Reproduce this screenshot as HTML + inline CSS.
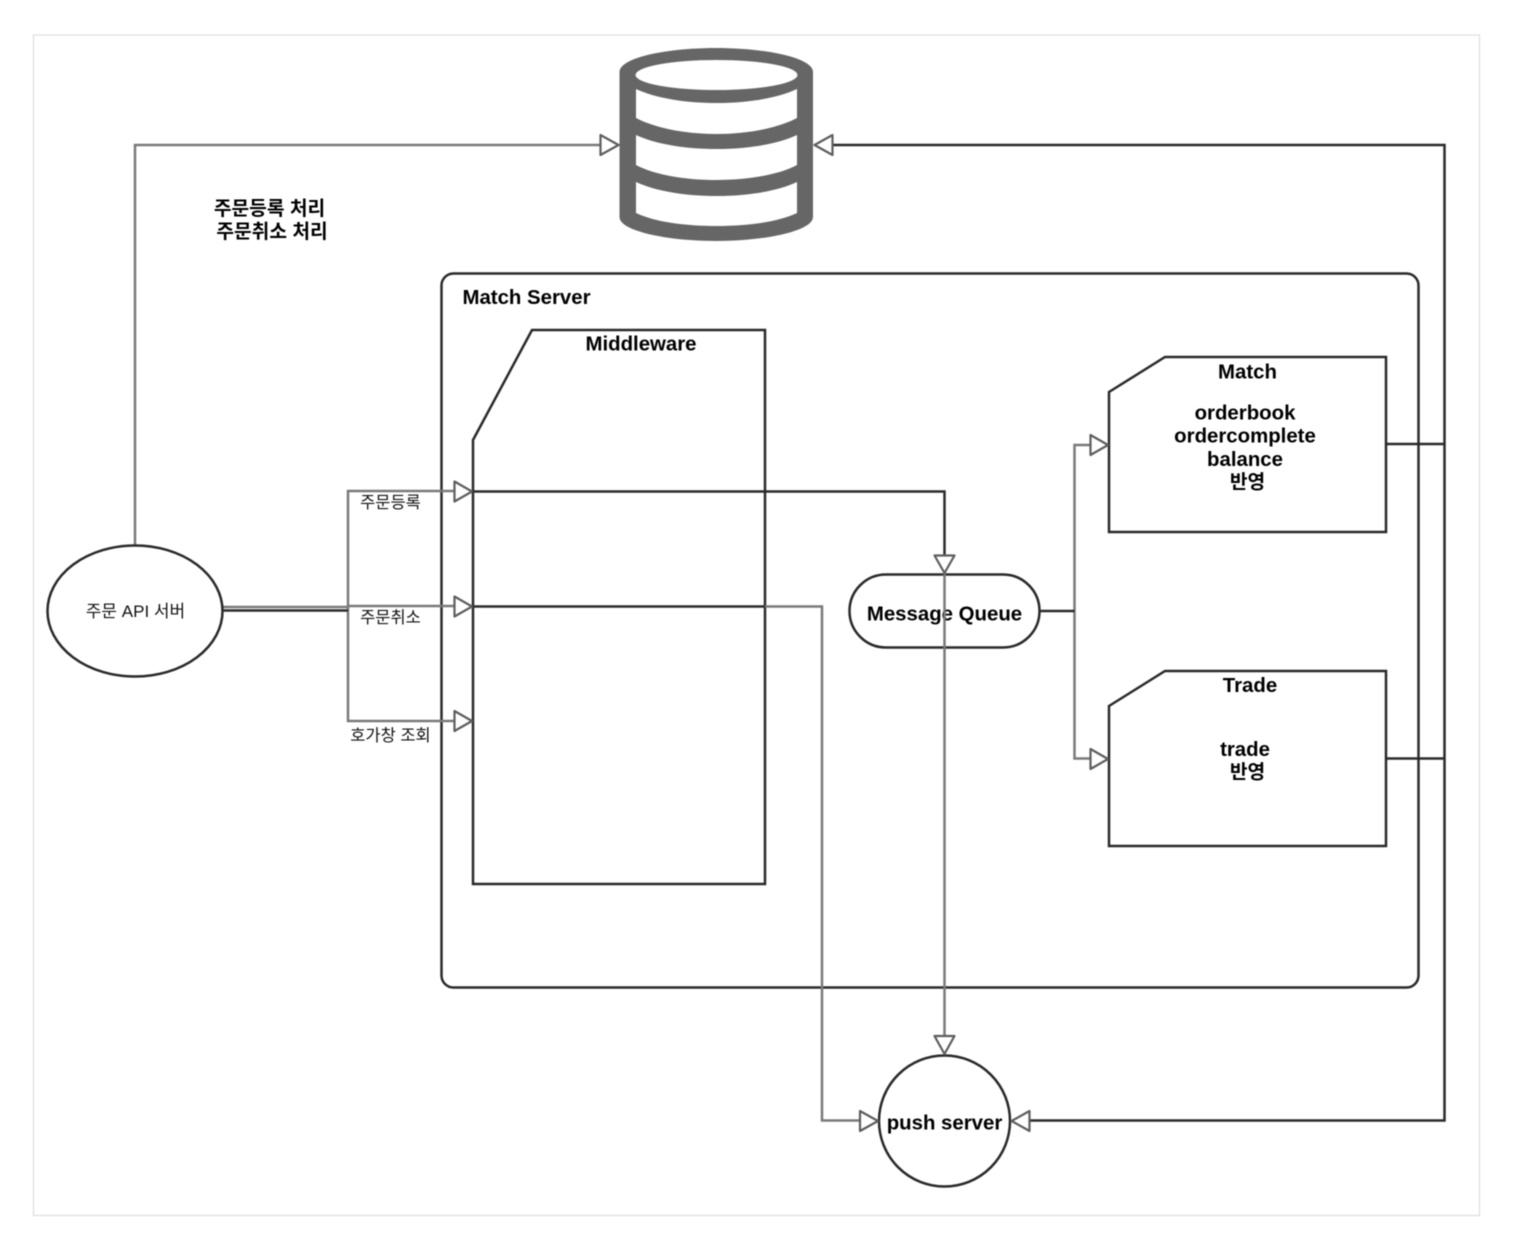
<!DOCTYPE html>
<html><head><meta charset="utf-8">
<style>
html,body{margin:0;padding:0;background:#fff;width:1516px;height:1250px;overflow:hidden}
svg{display:block;filter:blur(0.45px)}
text{font-family:"Liberation Sans","Noto Sans CJK KR",sans-serif;fill:#000;text-anchor:middle}
.b{font-weight:700;font-size:20.4px}
.h{font-weight:700;font-size:19.2px}
.k{font-size:16.5px;fill:#111}
.d{fill:none;stroke:#2a2a2a;stroke-width:2.5}
.g{fill:none;stroke:#7a7a7a;stroke-width:2.5}
.a{fill:#fff;stroke:#5e5e5e;stroke-width:2.2;stroke-linejoin:round}
</style></head><body>
<svg width="1516" height="1250" viewBox="0 0 1516 1250" xmlns="http://www.w3.org/2000/svg">
<rect x="33.5" y="35" width="1446" height="1180.500" fill="#fff" stroke="#ddd" stroke-width="1.2"/>

<!-- database -->
<path fill="#666" d="M619.5 72C619.5 58 665 48 716 48S813 58 813 72V217C813 231 765 241 716 241S619.5 231 619.5 217Z"/>
<ellipse cx="716.5" cy="75" rx="81" ry="15" fill="#fff"/>
<path fill="#fff" d="M636 89C655 98 685 103 716.5 103S778 98 797 89V118C778 128 748 134 716.5 134S655 128 636 118Z"/>
<path fill="#fff" d="M636 135C655 144 685 149 716.5 149S778 144 797 135V165C778 175 748 180 716.5 180S655 175 636 165Z"/>
<path fill="#fff" d="M636 182C655 191 685 196 716.5 196S778 191 797 182V213C778 222 748 226 716.5 226S655 222 636 213Z"/>

<!-- containers -->
<rect x="441.5" y="273.5" width="977" height="714" rx="12" fill="#fff" class="d"/>
<polygon points="473,440 532,330 765,330 765,884 473,884" fill="#fff" class="d"/>
<polygon points="1109,392 1165,357 1386,357 1386,532 1109,532" fill="#fff" class="d"/>
<polygon points="1109,706 1165,671 1386,671 1386,846 1109,846" fill="#fff" class="d"/>

<!-- connectors: light -->
<path class="g" d="M135 545V145H600"/>
<path class="g" d="M222 607H348"/>
<path class="g" d="M454 491H348V721H454"/>
<path class="g" d="M348 606H454"/>
<path class="g" d="M765 606.500H822V1120.500H860"/>
<path class="g" d="M1090 445H1074.500V758.500H1090"/>

<!-- connectors: dark -->
<path class="d" d="M222 610.500H348"/>
<path class="d" d="M472 491.500H944.500V555"/>
<path class="d" d="M472 606.500H765"/>
<path class="d" d="M832 145H1444.500V1120.500H1029"/>
<path class="d" d="M1386 444H1444.500"/>
<path class="d" d="M1386 758.500H1444.500"/>

<!-- shapes -->
<ellipse cx="135" cy="611" rx="87.500" ry="65.500" fill="#fff" class="d"/>
<rect x="849.500" y="574.500" width="190" height="73" rx="36.500" fill="#fff" class="d"/>
<circle cx="944.500" cy="1121" r="65.500" fill="#fff" class="d"/>
<path class="d" d="M1039.500 611H1074.500"/>

<!-- labels -->
<text class="h" x="269.500" y="215">주문등록 처리</text>
<text class="h" x="272" y="238">주문취소 처리</text>
<text class="b" x="526.500" y="304">Match Server</text>
<text class="b" x="641" y="350.500">Middleware</text>
<text class="b" x="1247.500" y="378.500">Match</text>
<text class="b" x="1245" y="419.500">orderbook</text>
<text class="b" x="1245" y="442.500">ordercomplete</text>
<text class="b" x="1245" y="466">balance</text>
<text class="h" x="1247.500" y="488.500">반영</text>
<text class="b" x="1250" y="692">Trade</text>
<text class="b" x="1245" y="756">trade</text>
<text class="h" x="1247.500" y="778.500">반영</text>
<text class="b" x="944.500" y="620.500">Message Queue</text>
<text class="b" x="944.500" y="1129.500">push server</text>
<text class="k" x="135.500" y="617" style="font-size:17px">주문 API 서버</text>
<text class="k" x="390.500" y="508">주문등록</text>
<text class="k" x="390.500" y="623">주문취소</text>
<text class="k" x="390.500" y="741">호가창 조회</text>

<!-- vertical line runs over the queue label -->
<path class="g" d="M944.500 574V1036" stroke-width="2.2"/>

<!-- arrowheads -->
<polygon class="a" points="600.500,135 618.500,145 600.500,155"/>
<polygon class="a" points="832.500,135 814.500,145 832.500,155"/>
<polygon class="a" points="454.500,481.500 472,491.500 454.500,501.500"/>
<polygon class="a" points="454.500,596.500 472,606.500 454.500,616.500"/>
<polygon class="a" points="454.500,711 472,721 454.500,731"/>
<polygon class="a" points="934.500,555.500 954.500,555.500 944.500,573"/>
<polygon class="a" points="1090.500,435 1108,445 1090.500,455"/>
<polygon class="a" points="1090.500,749 1108,759 1090.500,769"/>
<polygon class="a" points="934.500,1036 954.500,1036 944.500,1054"/>
<polygon class="a" points="860,1111 878,1121 860,1131"/>
<polygon class="a" points="1029.500,1111 1011.500,1121 1029.500,1131"/>
</svg>
</body></html>
